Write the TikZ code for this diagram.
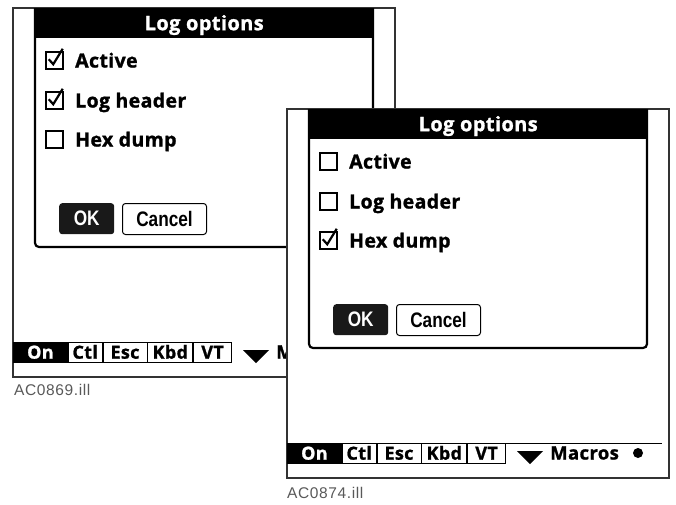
\documentclass[tikz,border=0pt]{standalone}
\usepackage{fontspec}
\newfontfamily\uifont[LetterSpace=2, BoldFeatures={FakeBold=1.2}]{Open Sans}
\newfontfamily\btnfont{Liberation Sans}
\newfontfamily\lblfont[LetterSpace=4]{Liberation Sans}
\usetikzlibrary{positioning}

\tikzset{
  frame/.style={draw=black!80, line width=1.2pt, fill=white},
  dlgline/.style={line width=2.2pt, rounded corners=4pt},
  title/.style={fill=black, text=white, anchor=north west, inner sep=0pt,
    minimum width=340pt, minimum height=30pt, text height=14pt, text depth=0pt,
    font=\uifont\bfseries\fontsize{20}{20}\selectfont},
  item/.style={anchor=base west, inner sep=0pt, font=\uifont\bfseries\fontsize{19.5}{20}\selectfont},
  cbox/.style={draw, line width=1.5pt, minimum size=17pt, inner sep=0pt},
  tick/.style={line width=2.2pt},
  btn/.style={rounded corners=3pt, anchor=north west, inner sep=0pt, minimum height=31pt,
    text height=14.5pt, text depth=0pt, font=\btnfont\bfseries\fontsize{21}{21}\selectfont},
  okbtn/.style={btn, fill=black!90, text=white},
  cancelbtn/.style={btn, draw, line width=1pt},
  tab/.style={draw, line width=0.8pt, inner sep=0pt, minimum height=20pt,
    text height=12.5pt, text depth=0pt, font=\uifont\bfseries\fontsize{18}{18}\selectfont},
  dot/.style={circle, fill, inner sep=0pt, minimum size=10pt},
  label/.style={anchor=west, inner sep=0pt, text=black!65, font=\lblfont\fontsize{15.5}{15.5}\selectfont}
}

% \logscreen{name}{x}{y}{tick1}{tick2}{tick3}
\newcommand{\logscreen}[6]{%
  \begin{scope}[shift={(#2,#3)}]
    \draw[frame] (0,0) rectangle (382,369);
    \node[title] (#1-title) at (21,0) {Log options};
    \draw[dlgline] (22,0) -- (22,239) -- (360,239) -- (360,0);
    \foreach \txt/\yy/\tk [count=\i] in {Active/52.5/#4, Log header/92.5/#5, Hex dump/131.5/#6} {
      \node[cbox] (#1-box\i) at (41.5,\yy) {};
      \ifnum\tk=1
        \draw[tick] (#1-box\i.north west) ++(3.5,8) -- ++(4.5,5) -- ++(9.5,-15.5);
      \fi
      \node[item] (#1-item\i) at (62,\yy+7) {\txt};
    }
    \node[okbtn, minimum width=55pt] (#1-ok) at (46,195) {\scalebox{0.82}[1]{OK}};
    \node[cancelbtn, minimum width=84pt] (#1-cancel) at (109,195) {\scalebox{0.82}[1]{Cancel}};
    \node[tab, anchor=north west, fill=black, text=white, minimum width=54pt] (#1-on) at (0,334) {On};
    \node[tab, right=0pt of #1-on, minimum width=34pt] (#1-ctl) {Ctl};
    \node[tab, right=0pt of #1-ctl, minimum width=44pt] (#1-esc) {Esc};
    \node[tab, right=0pt of #1-esc, minimum width=45pt] (#1-kbd) {Kbd};
    \node[tab, right=0pt of #1-kbd, minimum width=38pt] (#1-vt) {VT};
    \fill (230,342) -- (256,342) -- (243,355) -- cycle;
    \node[item, font=\uifont\bfseries\fontsize{18.5}{18}\selectfont] (#1-macros) at (263,350.5) {Macros};
    \node[dot] (#1-dot) at (351,344) {};
  \end{scope}
}

\begin{document}
\begin{tikzpicture}[x=1pt, y=-1pt]
  \useasboundingbox (0,0) rectangle (676,504);
  \logscreen{A}{13}{8}{1}{1}{0}
  \node[label] (lblA) at (14,390) {AC0869.ill};
  \logscreen{B}{287}{109}{0}{0}{1}
  \draw[line width=0.8pt] (B-vt.north east) -- ++(156,0);
  \node[label] (lblB) at (287,493) {AC0874.ill};
\end{tikzpicture}
\end{document}
